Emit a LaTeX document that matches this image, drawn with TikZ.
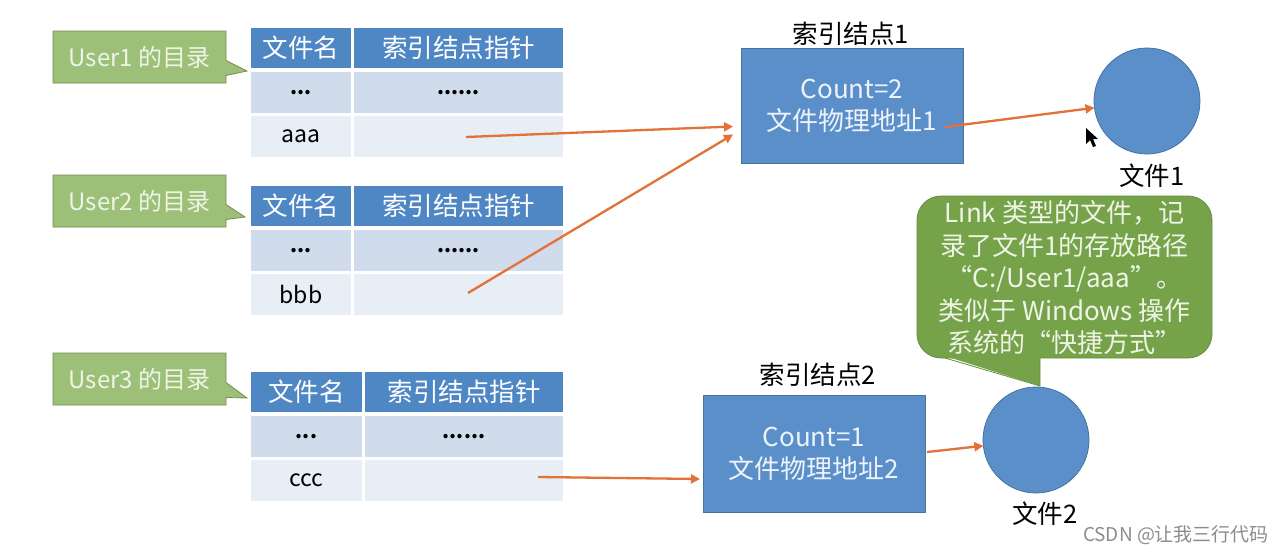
\documentclass[tikz,border=0pt]{standalone}
\usepackage{fontspec}
\setmainfont{Noto Sans CJK SC}
\usetikzlibrary{shapes.callouts,arrows.meta,calc}
\definecolor{hdrblue}{HTML}{4F87C5}
\definecolor{rowA}{HTML}{D0DBEB}
\definecolor{rowB}{HTML}{E8EEF6}
\definecolor{boxblue}{HTML}{5A8FCA}
\definecolor{boxedge}{HTML}{44739F}
\definecolor{lgreen}{HTML}{9DC078}
\definecolor{lgreenedge}{HTML}{748E4E}
\definecolor{dgreen}{HTML}{76A34A}
\definecolor{dgreenedge}{HTML}{668F3E}
\definecolor{gtext}{HTML}{EEF4E6}
\definecolor{btext}{HTML}{EEF3FA}
\definecolor{orangeA}{HTML}{E4703A}
\newcommand\fsz[2]{\fontsize{#1pt}{#2pt}\selectfont}
\newcommand\dirtable[4]{%
  \node[hdr,anchor=north west,minimum width=#3] (#1a) at (251,#2) {文件名};
  \node[hdr,anchor=north west,minimum width={309-#3}] (#1b) at (254+#3,#2) {索引结点指针};
  \node[rowa,anchor=north west,minimum width=#3] (#1c) at (251,#2+44) {\textbf{...}};
  \node[rowa,anchor=north west,minimum width={309-#3}] (#1d) at (254+#3,#2+44) {\textbf{......}};
  \node[rowb,anchor=north west,minimum width=#3] (#1e) at (251,#2+87.5) {#4};
  \node[rowb,anchor=north west,minimum width={309-#3}] (#1f) at (254+#3,#2+87.5) {};
}
\begin{document}
\begin{tikzpicture}[x=1pt,y=-1pt,
  every node/.style={inner sep=0pt,outer sep=0pt},
  hdr/.style={fill=hdrblue,text=white,minimum height=40,font=\fsz{25.5}{30}},
  rowa/.style={fill=rowA,text=black,minimum height=41,font=\fsz{20}{22}},
  rowb/.style={fill=rowB,text=black,minimum height=41,font=\fsz{23}{28}},
  usercall/.style={rectangle callout,fill=lgreen,draw=lgreenedge,line width=0.8pt,
    text=gtext,minimum width=173,minimum height=52,callout pointer width=15pt,font=\fsz{24}{30}},
  idxbox/.style={fill=boxblue,draw=boxedge,line width=0.8pt,text=btext,align=center,
    minimum width=222,font=\fsz{26}{32}},
  lbl/.style={text=black,font=\fsz{25.5}{30}},
  filec/.style={circle,fill=boxblue,draw=boxedge,line width=0.8pt,minimum size=106},
  arr/.style={draw=orangeA,line width=2.3pt,-{Triangle[length=9pt,width=9pt]}},
  bubtext/.style={text=gtext,align=center,font=\fsz{26}{32.5}},
  wm/.style={text=black!45,font=\fsz{19}{22}}
]
\useasboundingbox (0,0) rectangle (1286,554);
\fill[white] (0,0) rectangle (1286,554);

% tables
\dirtable{ta}{28}{100}{aaa}
\dirtable{tb}{186}{100}{bbb}
\dirtable{tc}{372}{111}{ccc}

% user callouts
\node[usercall,callout absolute pointer={(247,71)}] (u1) at (139.5,57) {User1 的目录};
\node[usercall,callout absolute pointer={(245,217)}] (u2) at (139.5,201) {User2 的目录};
\node[usercall,callout absolute pointer={(247,398)}] (u3) at (139.5,379) {User3 的目录};

% index nodes
\node[idxbox,minimum height=115] (idx1) at (852,105.5) {Count=2\\文件物理地址1};
\node[lbl] (l1) at (851,34) {索引结点1};
\node[idxbox,minimum height=117] (idx2) at (814,453.5) {Count=1\\文件物理地址2};
\node[lbl] (l2) at (818,375) {索引结点2};

% files
\node[filec] (f1) at (1147,101) {};
\node[lbl] (f1l) at (1152,176) {文件1};
\node[filec] (f2) at (1036,440) {};
\node[lbl] (f2l) at (1045,514) {文件2};

% bubble
\node[fill=dgreen,draw=dgreenedge,line width=0.8pt,rounded corners=24pt,
  minimum width=295,minimum height=162] (bub) at (1064.5,277) {};
\fill[dgreen] (945,356) -- (1040,356) -- (1040,386) -- cycle;
\draw[dgreenedge,line width=0.8pt] (945,358) -- (1040,386) -- (1040,358);
\node[bubtext] (bubt) at (1064.5,278) {Link 类型的文件，记\\录了文件1的存放路径\\“C:/User1/aaa”。\\类似于 Windows 操作\\系统的“快捷方式”};

% arrows
\coordinate (s1) at (466,137);
\coordinate (s2) at (468,293);
\coordinate (s3) at (538,477);
\coordinate (s4) at (945,127);
\coordinate (s5) at (927,452);
\draw[arr] (s1) -- ([shift={(-8,21)}]idx1.west);
\draw[arr] (s2) -- ([shift={(-8,29)}]idx1.west);
\draw[arr] (s4) -- (f1);
\draw[arr] (s3) -- ([shift={(-3,25.5)}]idx2.west);
\draw[arr] (s5) -- (f2);

% cursor
\fill[black] (1086,128) -- (1086,144) -- (1090,140) -- (1093,147) -- (1096,146) -- (1093,139) -- (1098,139) -- cycle;

% watermark
\node[wm] (wmk) at (1176,535) {CSDN @让我三行代码};
\end{tikzpicture}
\end{document}
